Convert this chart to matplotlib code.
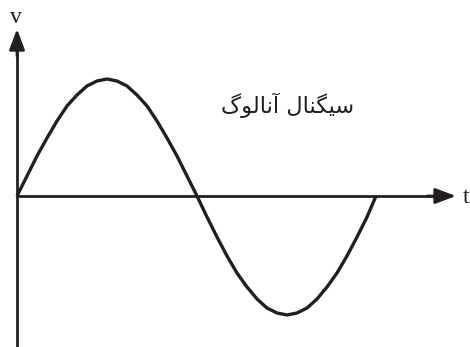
import matplotlib
matplotlib.use("Agg")
import matplotlib.pyplot as plt

# signal samples (t in px-like units, v amplitude)
t_vals = [0, 10, 20, 30, 40, 50, 60, 70, 80, 90, 100, 110, 120, 130, 140, 150, 160, 170, 180,
          190, 200, 210, 220, 230, 240, 250, 260, 270, 280, 290, 300, 310, 320, 330, 340, 350, 359]
v_vals = [0, 20, 40, 58, 75, 90, 101, 110, 115, 117, 115, 110, 101, 90, 75, 58, 40, 20, 0,
          -21, -41, -60, -77, -91, -103, -112, -117, -119, -117, -112, -103, -91, -77, -60, -41, -21, 0]

label_v = "v"
label_t = "t"
# "سیگنال آنالوگ" written with Arabic presentation forms (visual order) so the glyphs join
title_text = "\uFB92\uFEEE\uFEDF\uFE8E\uFEE7\uFE81 \uFEDD\uFE8E\uFEE8\uFB95\uFBFF\uFEB3"

fig = plt.figure(figsize=(4.70, 3.47), dpi=100)
ax = fig.add_axes([0, 0, 1, 1])
ax.set_xlim(-17, 453)
ax.set_ylim(-151, 196)
ax.axis("off")

col = "#231f20"
# axes
ax.plot([0, 0], [-151, 150], color=col, lw=2.0, solid_capstyle="butt")
ax.plot([0, 423], [0, 0], color=col, lw=2.0, solid_capstyle="butt")
ax.annotate("", xy=(0, 167), xytext=(0, 140),
            arrowprops=dict(arrowstyle="-|>,head_length=12.5,head_width=4.7",
                            mutation_scale=1, color=col, lw=2.0, shrinkA=0, shrinkB=0))
ax.annotate("", xy=(439, 0), xytext=(410, 0),
            arrowprops=dict(arrowstyle="-|>,head_length=12.5,head_width=4.7",
                            mutation_scale=1, color=col, lw=2.0, shrinkA=0, shrinkB=0))

# signal
ax.plot(t_vals, v_vals, color=col, lw=2.4, solid_joinstyle="round", solid_capstyle="butt")

ax.text(-1, 173, label_v, family="Liberation Serif", fontsize=17, ha="center", va="baseline", color=col)
ax.text(449, -7, label_t, family="Liberation Serif", fontsize=17, ha="center", va="baseline", color=col)
ax.text(271, 91, title_text, family="DejaVu Sans", fontsize=16.2, ha="center", va="center", color=col)

fig.savefig("out.png", dpi=100)
